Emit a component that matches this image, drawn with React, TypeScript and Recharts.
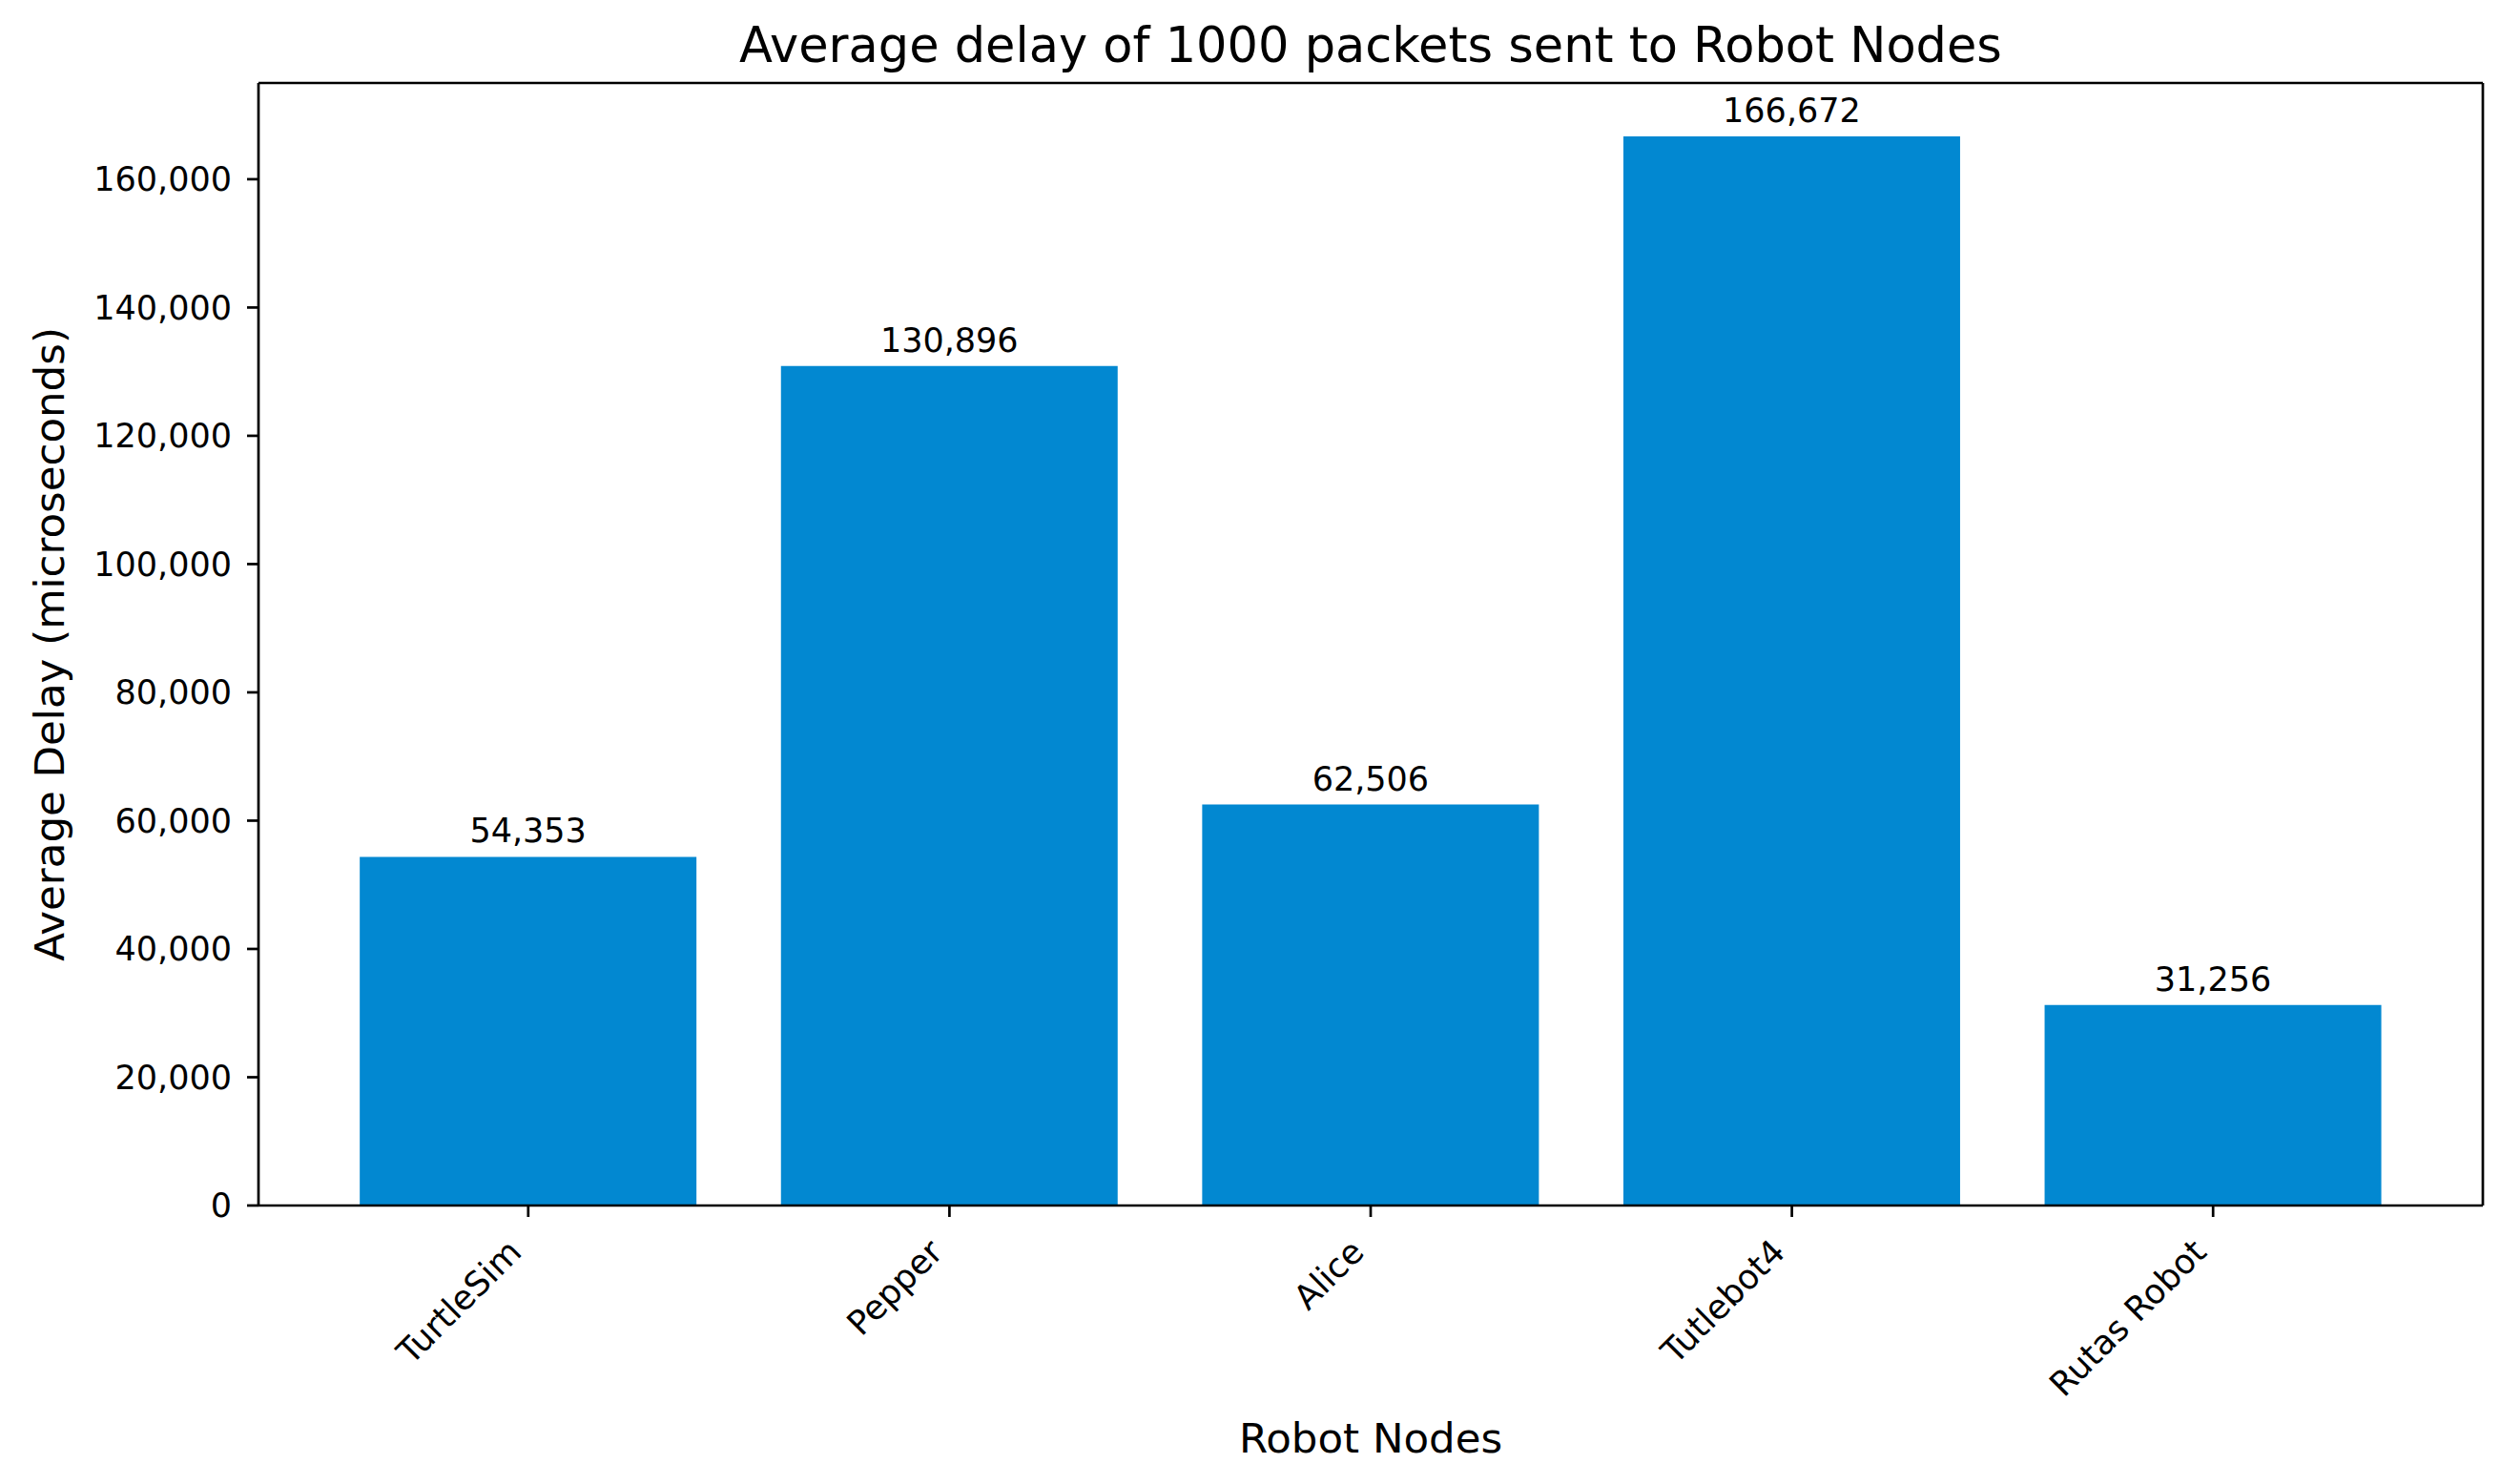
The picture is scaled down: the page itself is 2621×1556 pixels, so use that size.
import React from 'react';
import { BarChart, Bar, XAxis, YAxis, LabelList, Label } from 'recharts';

const categories = ['TurtleSim', 'Pepper', 'Alice', 'Tutlebot4', 'Rutas Robot'];
const delays = [54353, 130896, 62506, 166672, 31256];
const yTicks = [0, 20000, 40000, 60000, 80000, 100000, 120000, 140000, 160000];

const TITLE = 'Average delay of 1000 packets sent to Robot Nodes';
const X_LABEL = 'Robot Nodes';
const Y_LABEL = 'Average Delay (microseconds)';

const data = categories.map((name, i) => ({ name, value: delays[i] }));
const yMax = Math.max(...delays) * 1.05;

const FONT = '"DejaVu Sans", Verdana, sans-serif';
const BAR_COLOR = '#0288d1';
const LINE_W = 2.7;

const fmt = (v: number) => Number(v).toLocaleString('en-US');

function XTick(props: any) {
  const { x, y, payload } = props;
  const ax = x - 14;
  const ay = y + 30;
  return (
    <text
      x={ax}
      y={ay}
      transform={`rotate(-45, ${ax}, ${ay})`}
      textAnchor="end"
      dominantBaseline="central"
      fontSize={35.5}
      fontFamily={FONT}
      fill="#000"
    >
      {payload.value}
    </text>
  );
}

function YLabel(props: any) {
  const vb = props.viewBox || {};
  const cx = (vb.x ?? 0) + 67;
  const cy = (vb.y ?? 0) + (vb.height ?? 0) / 2;
  return (
    <text
      x={cx}
      y={cy}
      transform={`rotate(-90, ${cx}, ${cy})`}
      textAnchor="middle"
      fontSize={43.5}
      fontFamily={FONT}
      fill="#000"
    >
      {Y_LABEL}
    </text>
  );
}

function TitleLabel(props: any) {
  const vb = props.viewBox || {};
  const cx = (vb.x ?? 0) + (vb.width ?? 0) / 2;
  const cy = (vb.y ?? 0) + (vb.height ?? 0) - 22;
  return (
    <text x={cx} y={cy} textAnchor="middle" fontSize={51} fontFamily={FONT} fill="#000">
      {TITLE}
    </text>
  );
}

export default function App() {
  return (
    <div style={{ position: 'absolute', left: 0, top: 0, width: 2621, height: 1556, background: '#fff' }}>
      <BarChart
        width={2621}
        height={1556}
        data={data}
        margin={{ top: 0, right: 17, left: 0, bottom: 0 }}
        barCategoryGap="10%"
        style={{ fontFamily: FONT }}
      >
        <XAxis
          dataKey="name"
          xAxisId="main"
          height={292}
          padding={{ left: 62, right: 62 }}
          interval={0}
          tickSize={12}
          tickMargin={0}
          tick={<XTick />}
          axisLine={{ stroke: '#000', strokeWidth: LINE_W }}
          tickLine={{ stroke: '#000', strokeWidth: LINE_W }}
        >
          <Label
            value={X_LABEL}
            position="insideBottom"
            offset={33}
            fontSize={43.5}
            fontFamily={FONT}
            fill="#000"
          />
        </XAxis>
        <XAxis
          dataKey="name"
          xAxisId="top"
          orientation="top"
          height={87}
          padding={{ left: 62, right: 62 }}
          tick={false}
          tickLine={false}
          axisLine={{ stroke: '#000', strokeWidth: LINE_W }}
        >
          <Label content={<TitleLabel />} />
        </XAxis>
        <YAxis
          yAxisId="main"
          width={271}
          domain={[0, yMax]}
          ticks={yTicks}
          tickFormatter={fmt}
          tickSize={12}
          tickMargin={16}
          tick={{ fontSize: 35, fontFamily: FONT, fill: '#000' }}
          axisLine={{ stroke: '#000', strokeWidth: LINE_W }}
          tickLine={{ stroke: '#000', strokeWidth: LINE_W }}
          allowDataOverflow
        >
          <Label content={<YLabel />} />
        </YAxis>
        <YAxis
          yAxisId="right"
          orientation="right"
          width={1}
          domain={[0, yMax]}
          tick={false}
          tickLine={false}
          axisLine={{ stroke: '#000', strokeWidth: LINE_W }}
        />
        <Bar
          dataKey="value"
          xAxisId="main"
          yAxisId="main"
          fill={BAR_COLOR}
          isAnimationActive={false}
        >
          <LabelList
            dataKey="value"
            position="top"
            offset={15}
            formatter={(v: any) => fmt(v)}
            fontSize={35}
            fontFamily={FONT}
            fill="#000"
          />
        </Bar>
      </BarChart>
    </div>
  );
}
